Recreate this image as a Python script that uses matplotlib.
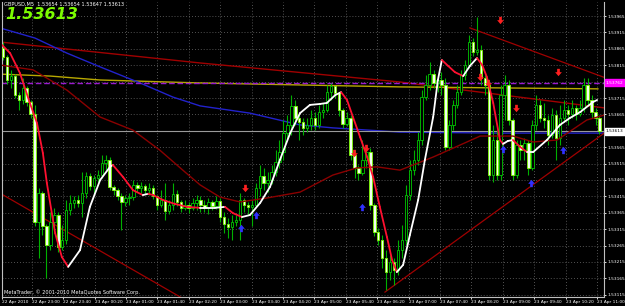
import matplotlib
matplotlib.use("Agg")
import matplotlib.pyplot as plt
from matplotlib.path import Path
import numpy as np

# GBPUSD M5 candles, prices in pips above 1.5300 (open = previous close)
first_open = 86.8
close_pips = [84.0, 77.0, 78.2, 72.4, 70.9, 74.6, 70.3, 66.6, 33.7, 42.5,
              32.5, 26.7, 33.7, 35.8, 26.1, 28.2, 37.4, 39.5, 40.4, 39.5,
              42.5, 47.7, 44.7, 47.1, 48.0, 51.7, 52.6, 44.4, 43.4, 41.6,
              39.8, 41.0, 41.3, 45.0, 44.1, 44.7, 43.4, 44.1, 41.6, 38.9,
              40.4, 37.0, 38.9, 42.2, 39.8, 38.0, 38.9, 38.0, 39.5, 40.4,
              38.9, 38.0, 39.8, 38.6, 40.1, 35.2, 33.1, 32.2, 33.7, 34.3,
              40.4, 38.9, 38.3, 38.9, 44.1, 47.7, 45.6, 46.5, 48.9, 52.0,
              55.0, 60.8, 63.3, 69.1, 65.4, 64.2, 62.4, 63.3, 65.4, 63.3,
              67.2, 67.9, 73.3, 75.2, 73.0, 67.9, 63.6, 65.4, 54.1, 50.2,
              48.6, 52.6, 55.0, 38.9, 30.6, 28.2, 22.7, 18.4, 21.5, 19.0,
              25.1, 28.2, 41.9, 49.5, 52.6, 58.7, 71.8, 75.5, 78.8, 76.1,
              77.0, 75.5, 56.6, 63.3, 69.4, 73.3, 78.5, 81.6, 88.6, 85.5,
              86.2, 77.6, 75.5, 48.0, 58.7, 48.0, 72.4, 75.5, 64.8, 48.0,
              57.2, 55.6, 57.8, 50.2, 63.3, 69.4, 65.4, 64.8, 60.2, 66.3,
              59.3, 65.4, 67.9, 66.6, 68.5, 66.6, 68.5, 75.5, 70.9, 67.2,
              65.4, 61.3]
high_pips = [88.6, 84.6, 80.1, 78.8, 73.3, 77.6, 75.2, 70.9, 69.4, 44.1,
             43.0, 33.1, 36.7, 38.0, 36.7, 32.8, 40.4, 41.9, 41.6, 41.9,
             48.9, 48.9, 48.6, 48.0, 49.5, 54.1, 54.1, 53.5, 45.0, 44.1,
             42.5, 41.9, 42.5, 46.5, 45.9, 45.9, 45.3, 45.6, 45.0, 41.9,
             43.4, 45.6, 40.4, 45.6, 43.4, 40.4, 40.4, 39.8, 41.0, 41.9,
             41.6, 40.4, 41.0, 40.4, 41.6, 41.0, 36.7, 34.9, 35.8, 35.8,
             42.5, 41.0, 39.8, 40.4, 45.6, 51.1, 50.2, 48.9, 51.1, 55.6,
             58.7, 64.8, 66.3, 72.4, 70.9, 66.3, 65.4, 65.4, 67.9, 67.2,
             69.4, 70.0, 75.5, 76.1, 75.2, 73.3, 68.5, 67.2, 66.3, 55.6,
             51.1, 58.7, 57.2, 56.3, 39.5, 31.9, 29.7, 25.1, 23.6, 22.7,
             28.2, 32.8, 45.0, 52.6, 55.6, 61.1, 73.9, 78.5, 82.5, 80.1,
             78.2, 79.4, 77.6, 64.8, 70.9, 75.5, 80.1, 83.1, 90.7, 89.8,
             96.2, 87.7, 78.5, 77.0, 63.3, 61.7, 75.5, 78.5, 77.0, 65.4,
             58.7, 58.7, 59.3, 58.7, 64.8, 72.4, 70.9, 70.0, 66.3, 68.5,
             67.9, 69.4, 70.9, 69.4, 70.9, 69.4, 70.9, 77.6, 77.6, 72.4,
             68.5, 66.3]
low_pips = [83.1, 75.8, 74.6, 71.5, 67.9, 69.7, 69.1, 65.4, 32.5, 22.7,
            29.7, 16.6, 25.1, 31.9, 24.5, 25.1, 27.0, 35.8, 38.0, 38.3,
            35.2, 41.0, 43.4, 41.9, 45.9, 47.1, 49.5, 43.4, 41.9, 40.4,
            31.3, 38.6, 38.9, 40.4, 42.8, 42.5, 42.2, 41.9, 40.7, 37.4,
            38.3, 34.3, 36.1, 37.4, 38.6, 36.7, 37.4, 36.4, 37.4, 37.4,
            36.7, 36.7, 36.1, 37.4, 37.7, 33.7, 30.3, 28.8, 28.2, 32.5,
            28.2, 36.7, 35.8, 32.5, 38.3, 41.6, 43.4, 42.8, 45.3, 47.7,
            50.2, 52.6, 58.7, 60.2, 63.3, 58.7, 60.2, 61.1, 61.7, 61.7,
            62.4, 65.4, 67.2, 70.9, 71.5, 66.0, 62.4, 63.0, 52.6, 47.1,
            46.5, 48.0, 50.2, 37.4, 29.4, 26.7, 19.7, 12.9, 16.0, 14.5,
            17.5, 22.7, 26.7, 40.4, 48.0, 51.1, 57.2, 70.9, 73.9, 74.6,
            73.3, 72.4, 55.6, 55.6, 61.7, 68.5, 72.4, 77.0, 80.7, 84.3,
            84.6, 75.5, 72.4, 46.5, 46.0, 46.5, 46.5, 64.8, 63.3, 46.5,
            47.1, 52.6, 52.6, 48.0, 49.5, 61.7, 64.2, 62.4, 57.2, 59.3,
            52.6, 57.2, 64.2, 63.3, 65.4, 64.8, 66.0, 67.2, 69.4, 65.4,
            63.3, 60.5]

# indicator lines: (bar index, pips)
hma_bar = [-0.25, 1.8, 4.3, 6.8, 8.6, 10.1, 11.1, 13.2, 14.9, 16.5, 19.5, 22.0, 24.6,
           27.1, 27.8, 30.4, 32.9, 35.4, 36.8, 38.0, 40.5, 43.5, 46.6, 49.9, 53.7, 56.2,
           58.2, 60.5, 62.5, 65.1, 67.6, 70.1, 72.7, 75.2, 77.7, 80.3, 82.0, 84.1, 85.6,
           87.1, 88.6, 90.4, 92.2, 93.7, 95.4, 97.2, 98.5, 99.7, 101.3, 103.0, 105.1,
           106.8, 108.9, 110.1, 111.1, 112.7, 114.4, 116.5, 118.2, 120.0, 121.3, 122.5,
           124.1, 125.8, 126.6, 127.8, 129.1, 130.9, 132.7, 134.2, 137.7, 141.0, 143.5,
           146.1, 149.4, 150.4]
hma_pips = [87.7, 85.2, 79.1, 70.0, 63.9, 54.7, 45.6, 30.3, 23.0, 20.0, 25.1, 38.3, 46.5,
            50.5, 51.1, 47.4, 43.4, 41.9, 42.3, 41.9, 40.4, 39.2, 38.3, 38.0, 38.0, 38.3,
            36.4, 35.2, 35.8, 39.5, 44.4, 52.6, 60.8, 66.9, 69.4, 69.7, 70.0, 72.4, 73.3,
            70.9, 65.7, 59.6, 53.5, 47.4, 38.3, 29.1, 22.1, 18.4, 20.6, 29.7, 40.4,
            52.6, 65.7, 77.0, 83.1, 81.3, 79.4, 78.2, 81.3, 83.7, 81.6, 77.9,
            70.0, 58.7, 57.5, 58.4, 58.7, 56.6, 55.0, 55.0, 58.7, 63.3, 65.4,
            67.2, 70.3, 70.9]

ma_bar = [-0.8, 7.6, 16.2, 24.6, 32.9, 39.7, 46.1, 49.9, 54.9, 60.0, 66.8, 75.2, 83.5,
          89.6, 94.7, 100.5, 108.9, 120.8, 129.1, 134.2, 140.3, 147.8, 152.2]
ma_pips = [81.6, 80.1, 73.9, 65.7, 61.7, 55.6, 48.9, 45.0, 41.3, 39.8, 41.0, 42.8, 48.0,
           50.2, 50.5, 49.5, 53.5, 59.9, 59.9, 58.1, 58.7, 64.8, 66.3]

slow_bar = [-0.8, 49.9, 100.5, 152.2]
slow_pips = [88.6, 82.2, 76.4, 68.5]

yellow_bar = [-0.8, 12.0, 24.6, 49.9, 75.0, 100.5, 125.0, 150.6]
yellow_pips = [78.8, 78.2, 77.0, 76.1, 75.5, 74.9, 74.6, 74.3]

blue_bar = [-0.8, 8.1, 16.2, 24.6, 34.7, 43.0, 49.9, 62.5, 75.2, 83.5, 100.5, 125.8, 152.2]
blue_pips = [92.9, 89.8, 85.2, 81.0, 76.1, 71.8, 69.1, 66.9, 63.3, 62.4, 61.1, 60.8, 60.8]

trend_lines = [([118.2, 152.2], [92.9, 77.8]),
               ([96.7, 152.2], [12.3, 60.8]),
               ([-0.8, 45.3], [42.5, 10.5])]

sell_bar = [61.3, 88.9, 91.9, 125.8, 120.8, 122.8, 140.5, 129.9]
sell_pips = [44.1, 54.7, 56.3, 95.3, 77.9, 76.1, 79.4, 68.5]
buy_bar = [60.3, 64.1, 90.9, 126.6, 133.7, 141.8]
buy_pips = [31.9, 35.8, 38.3, 56.0, 45.6, 55.6]

pivot_price = 1.53762
bid_price = 1.53613

time_labels = ["22 Apr 2010", "22 Apr 23:00", "22 Apr 23:40", "23 Apr 00:20",
               "23 Apr 01:00", "23 Apr 01:40", "23 Apr 02:20", "23 Apr 03:00",
               "23 Apr 03:40", "23 Apr 04:20", "23 Apr 05:00", "23 Apr 05:40",
               "23 Apr 06:20", "23 Apr 07:00", "23 Apr 07:40", "23 Apr 08:20",
               "23 Apr 09:00", "23 Apr 09:40", "23 Apr 10:20", "23 Apr 11:00"]

# fat arrow shapes like the MT4 wingdings arrows
ARROW_DOWN = Path([(-0.22, 0.6), (0.22, 0.6), (0.22, 0.05), (0.55, 0.05), (0.0, -0.6),
                   (-0.55, 0.05), (-0.22, 0.05), (-0.22, 0.6)], closed=True)
ARROW_UP = Path([(x, -y) for x, y in ARROW_DOWN.vertices], closed=True)


def to_price(pips):
    return 1.53 + np.asarray(pips) / 10000.0


def draw_candles(ax):
    close = to_price(close_pips)
    high = to_price(high_pips)
    low = to_price(low_pips)
    opens = np.concatenate([[to_price(first_open)], close[:-1]])
    x = np.arange(len(close))
    ax.vlines(x, low, high, color="#00b000", linewidth=0.8, zorder=2)
    bull = close >= opens
    bottom = np.minimum(opens, close)
    height = np.maximum(np.abs(close - opens), 0.000012)
    ax.bar(x[bull], height[bull], bottom=bottom[bull], width=0.62,
           color="black", edgecolor="#00c800", linewidth=0.6, zorder=3)
    ax.bar(x[~bull], height[~bull], bottom=bottom[~bull], width=0.62,
           color="#f0fff0", edgecolor="#7cfc00", linewidth=0.6, zorder=3)


def draw_hma(ax):
    xs = hma_bar
    ys = to_price(hma_pips)
    for i in range(len(xs) - 1):
        col = "white" if ys[i + 1] >= ys[i] else "#ff1030"
        ax.plot(xs[i:i + 2], ys[i:i + 2], color=col, linewidth=1.3,
                solid_capstyle="round", zorder=5)


fig = plt.figure(figsize=(6.25, 3.06), dpi=100)
fig.patch.set_facecolor("black")
ax = fig.add_axes([2 / 625, 9 / 306, 602 / 625, 295 / 306])
ax.set_facecolor("black")
ax.set_xlim(-0.25, 152.15)
ax.set_ylim(1.53108, 1.54008)

# grid
yticks = np.round(np.arange(1.53115, 1.53970, 0.0005), 5)
xticks = [-0.2] + [7.3 + 7.95 * k for k in range(19)]
for y in yticks:
    ax.axhline(y, color="#6e6e6e", linewidth=0.6, linestyle=(0, (1, 2.5)), zorder=0)
for x in xticks[1:]:
    ax.axvline(x, color="#6e6e6e", linewidth=0.6, linestyle=(0, (1, 2.5)), zorder=0)

# background indicator lines
ax.plot(slow_bar, to_price(slow_pips), color="#a00000", linewidth=1.0, zorder=1)
ax.plot(yellow_bar, to_price(yellow_pips), color="#b8a800", linewidth=1.0, zorder=1)
ax.plot(blue_bar, to_price(blue_pips), color="#2222cc", linewidth=1.0, zorder=1)
ax.axhline(pivot_price, color="#9a1ad0", linewidth=1.0, linestyle=(0, (4, 2)), zorder=1)
ax.axhline(bid_price, color="#9a9a9a", linewidth=0.8, zorder=1)
for xs, ps in trend_lines:
    ax.plot(xs, to_price(ps), color="#a00000", linewidth=0.9, zorder=1)
ax.plot(ma_bar, to_price(ma_pips), color="#8b0000", linewidth=1.0, zorder=4)

draw_candles(ax)
draw_hma(ax)

ax.scatter(sell_bar, to_price(sell_pips), marker=ARROW_DOWN, s=28,
           color="#ff2020", linewidths=0, zorder=6)
ax.scatter(buy_bar, to_price(buy_pips), marker=ARROW_UP, s=28,
           color="#3030ff", linewidths=0, zorder=6)

# axes frame
ax.spines["top"].set_visible(False)
for side in ["left", "right", "bottom"]:
    ax.spines[side].set_color("#c0c0c0")
    ax.spines[side].set_linewidth(0.8)

# price scale; the two levels under the coloured boxes are left blank
ylabels = []
for v in yticks:
    hidden = abs(v - pivot_price) < 0.0002 or abs(v - bid_price) < 0.0002
    ylabels.append("" if hidden else f"{v:.5f}")
ax.yaxis.tick_right()
ax.set_yticks(yticks)
ax.set_yticklabels(ylabels)
ax.tick_params(axis="y", colors="white", labelsize=3.1, length=1.5, pad=1, width=0.6)
ax.set_xticks(xticks)
ax.set_xticklabels(time_labels, ha="left")
ax.tick_params(axis="x", colors="white", labelsize=3.1, length=1.5, pad=1, width=0.6)

# price boxes on the axis
ytrans = ax.get_yaxis_transform()
ax.text(1.003, pivot_price, f"{pivot_price:.5f}", transform=ytrans, fontsize=3.1,
        color="white", va="center", ha="left", clip_on=False, zorder=10,
        bbox=dict(facecolor="#ff00ff", edgecolor="#ff00ff", pad=0.9))
ax.text(1.003, bid_price, f"{bid_price:.5f}", transform=ytrans, fontsize=3.1,
        color="black", va="center", ha="left", clip_on=False, zorder=10,
        bbox=dict(facecolor="white", edgecolor="white", pad=0.9))

fig.text(4 / 625, 1 - 2 / 306, "GBPUSD,M5  1.53654 1.53654 1.53647 1.53613",
         fontsize=3.6, color="white", va="top", ha="left")
fig.text(5 / 625, 1 - 7 / 306, "1.53613", fontsize=11.5, fontweight="bold",
         fontstyle="italic", color="#7cfc00", va="top", ha="left")
ax.text(0.004, 0.008, "MetaTrader, \u00a9 2001-2010 MetaQuotes Software Corp.",
        transform=ax.transAxes, fontsize=3.6, color="white", va="bottom", ha="left")

fig.savefig("out.png", dpi=100, facecolor="black")
